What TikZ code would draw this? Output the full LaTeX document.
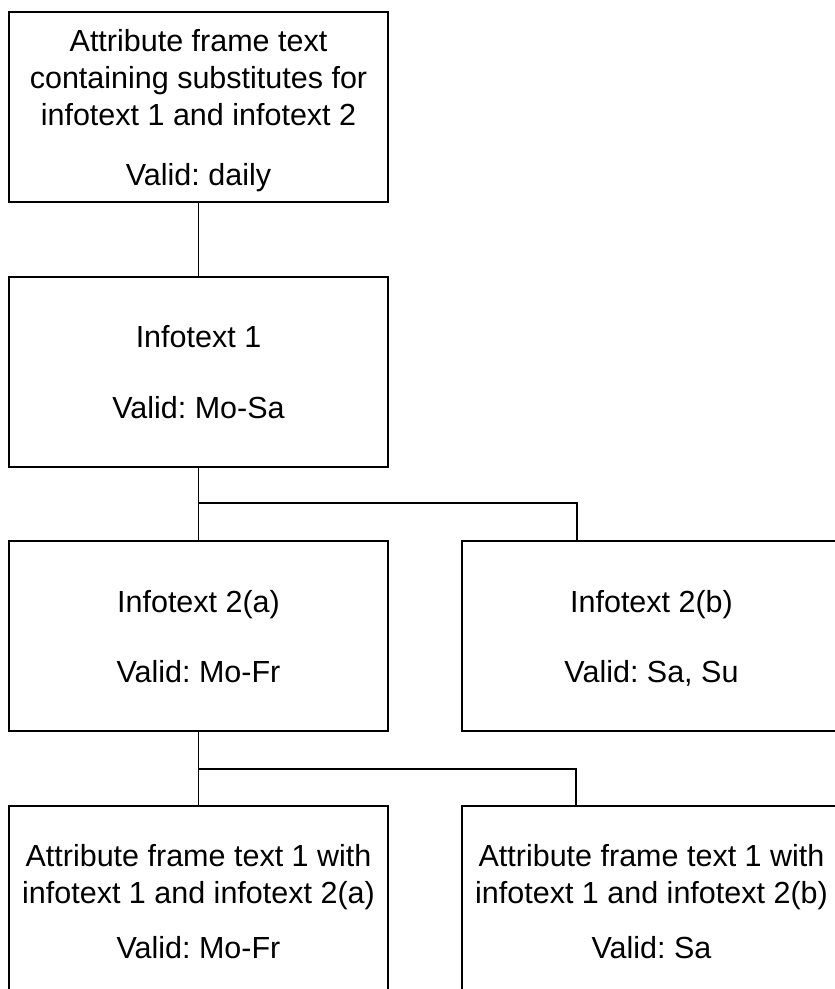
\documentclass[tikz,border=0pt]{standalone}
\usepackage{fontspec}
\setmainfont{Liberation Sans}
\frenchspacing
\begin{document}
\begin{tikzpicture}[x=1pt, y=-1pt,
    box/.style={draw, line width=1.1pt, minimum width=379pt, minimum height=190pt,
        inner sep=0pt, align=center, text depth=0pt,
        font=\fontsize{30.5}{37}\selectfont},
    link/.style={line width=1.1pt}]
    % Page frame (the right and bottom boxes are cut off by it)
    \clip (0,0) rectangle (835,989);

    % Define the boxes (left column at x=198.5, right column at x=651.5)
    \node[box] (frame) at (198.5,107) {Attribute frame text\\containing substitutes for\\infotext 1 and infotext 2\\[23pt]Valid: daily};
    \node[box] (info1) at (198.5,372) {Infotext 1\\[34pt]Valid: Mo-Sa};
    \node[box] (info2a) at (198.5,636) {Infotext 2(a)\\[33pt]Valid: Mo-Fr};
    \node[box] (info2b) at (651.5,636) {Infotext 2(b)\\[33pt]Valid: Sa, Su};
    \node[box] (result1) at (198.5,901) {Attribute frame text 1 with\\infotext 1 and infotext 2(a)\\[18pt]Valid: Mo-Fr};
    \node[box] (result2) at (651.5,901) {Attribute frame text 1 with\\infotext 1 and infotext 2(b)\\[18pt]Valid: Sa};

    % Branch points of the tree
    \coordinate (split1) at (198.5,503);
    \coordinate (drop1) at (577,541);
    \coordinate (split2) at (198.5,769);
    \coordinate (drop2) at (576,806);

    % Draw the connectors
    \draw[link] (frame) -- (info1);
    \draw[link] (info1) -- (info2a);
    \draw[link] (split1) -| (drop1);
    \draw[link] (info2a) -- (result1);
    \draw[link] (split2) -| (drop2);
\end{tikzpicture}
\end{document}
